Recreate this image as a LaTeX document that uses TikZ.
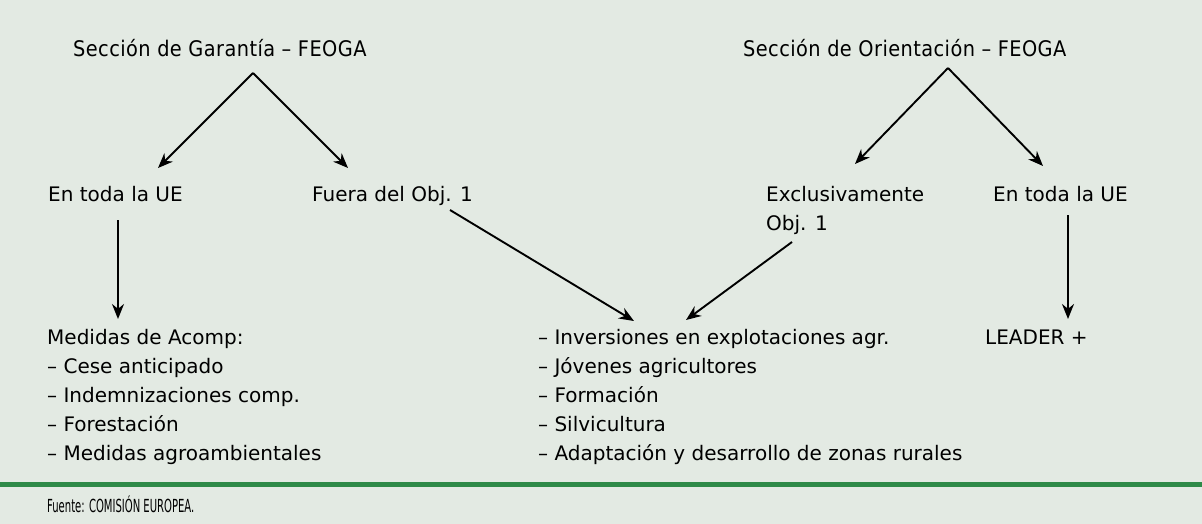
\documentclass[tikz,border=0pt]{standalone}
\usepackage{fontspec}
\usepackage{graphicx}
\setmainfont{DejaVu Sans}
\newfontfamily\headfont[LetterSpace=2]{DejaVu Sans Condensed}
\newfontfamily\condfont{DejaVu Sans Condensed}
\usetikzlibrary{arrows.meta}
\definecolor{bgc}{RGB}{227,234,227}
\definecolor{rulegreen}{RGB}{46,138,72}
\newcommand{\ltab}[1]{\begin{tabular}[t]{@{}l@{}}#1\end{tabular}}
\begin{document}
\begin{tikzpicture}[x=1pt,y=-1pt,
  txt/.style={inner sep=0pt,anchor=base west,font=\fontsize{20}{29}\selectfont},
  head/.style={inner sep=0pt,anchor=base west,font=\headfont\fontsize{21.5}{26}\selectfont},
  src/.style={inner sep=0pt,anchor=base west,font=\condfont\fontsize{18}{20}\selectfont},
  arr/.style={line width=1.9pt,-{Stealth[length=15pt,width=12pt]}}]
\fill[bgc] (0,0) rectangle (1202,524);
\useasboundingbox (0,0) rectangle (1202,524);
% headings
\node[head] (gar) at (73,57) {Sección de Garantía – FEOGA};
\node[head] (ori) at (743,57) {Sección de Orientación – FEOGA};
% second level
\node[txt] (ueL) at (48,201) {En toda la UE};
\node[txt] (fuera) at (312,201) {Fuera del Obj. 1};
\node[txt] (excl) at (766,201) {\ltab{Exclusivamente\\Obj. 1}};
\node[txt] (ueR) at (993,201) {En toda la UE};
% bottom level
\node[txt] (med) at (47,344) {\ltab{Medidas de Acomp:\\– Cese anticipado\\– Indemnizaciones comp.\\– Forestación\\– Medidas agroambientales}};
\node[txt] (inv) at (538,344) {\ltab{– Inversiones en explotaciones agr.\\– Jóvenes agricultores\\– Formación\\– Silvicultura\\– Adaptación y desarrollo de zonas rurales}};
\node[txt] (lead) at (985,344) {LEADER +};
% anchor points
\coordinate (garT) at (253,73);
\coordinate (oriT) at (948,68);
\coordinate (ueLin) at (158,168);
\coordinate (fueraIn) at (348,168);
\coordinate (exclIn) at (855,164);
\coordinate (ueRin) at (1043,166);
\coordinate (ueLout) at (118,220);
\coordinate (medIn) at (118,319);
\coordinate (fueraOut) at (450,210);
\coordinate (invInA) at (634,321);
\coordinate (exclOut) at (792,242);
\coordinate (invInB) at (686,320);
\coordinate (ueRout) at (1068,215);
\coordinate (leadIn) at (1068,319);
% connectors
\draw[arr] (garT) -- (ueLin);
\draw[arr] (garT) -- (fueraIn);
\draw[arr] (oriT) -- (exclIn);
\draw[arr] (oriT) -- (ueRin);
\draw[arr] (ueLout) -- (medIn);
\draw[arr] (fueraOut) -- (invInA);
\draw[arr] (exclOut) -- (invInB);
\draw[arr] (ueRout) -- (leadIn);
% rule and source
\fill[rulegreen] (0,482) rectangle (1202,486.5);
\node[src] (fuente) at (47,512) {\scalebox{0.62}[1]{Fuente: COMISIÓN EUROPEA.}};
\end{tikzpicture}
\end{document}
